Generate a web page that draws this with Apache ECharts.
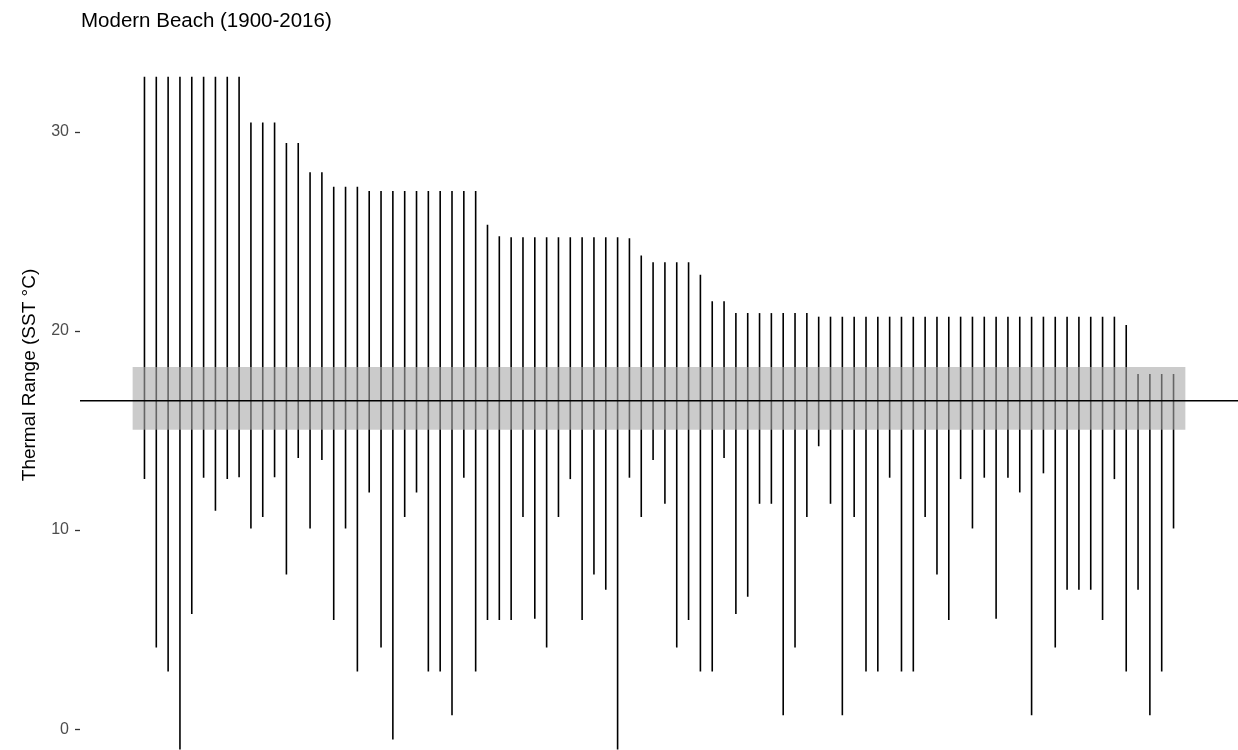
<!DOCTYPE html>
<html>
<head>
<meta charset="utf-8">
<script src="https://cdn.jsdelivr.net/npm/echarts@6/dist/echarts.min.js"></script>
<style>
  html, body { margin: 0; padding: 0; background: #ffffff; }
  #chart { width: 1238px; height: 750px; }
</style>
</head>
<body>
<div id="chart"></div>
<script>
// Thermal range (min/max SST) per record, ordered by maximum
const highs = [
  32.78, 32.78, 32.78, 32.78, 32.78, 32.78, 32.78, 32.78, 32.78,
  30.47, 30.47, 30.47,
  29.45, 29.45,
  27.97, 27.97,
  27.25, 27.25, 27.25,
  27.04, 27.04, 27.04, 27.04, 27.04, 27.04, 27.04, 27.04, 27.04, 27.04,
  25.34, 24.76,
  24.71, 24.71, 24.71, 24.71, 24.71, 24.71, 24.71, 24.71, 24.71, 24.71,
  24.66, 23.79,
  23.45, 23.45, 23.45, 23.45,
  22.83,
  21.49, 21.49,
  20.90, 20.90, 20.90, 20.90, 20.90, 20.90, 20.90,
  20.72, 20.72, 20.72, 20.72, 20.72, 20.72, 20.72, 20.72, 20.72, 20.72,
  20.72, 20.72, 20.72, 20.72, 20.72, 20.72, 20.72, 20.72, 20.72, 20.72,
  20.72, 20.72, 20.72, 20.72, 20.72, 20.72,
  20.30,
  17.84, 17.84, 17.84, 17.84
];
const lows = [
  12.56, 4.10, 2.90, -1.02, 5.78, 12.63, 10.97, 12.56, 12.65, 10.08,
  10.65, 12.65, 7.77, 13.62, 10.08, 13.52, 5.48, 10.08, 2.90, 11.89,
  4.10, -0.52, 10.65, 11.89, 2.90, 2.90, 0.70, 12.63, 2.90, 5.48,
  5.48, 5.48, 10.65, 5.54, 4.10, 10.65, 12.56, 5.48, 7.77, 7.00,
  -1.02, 12.63, 10.65, 13.52, 11.32, 4.10, 5.48, 2.90, 2.90, 13.62,
  5.78, 6.65, 11.32, 11.32, 0.70, 4.10, 10.65, 14.21, 11.32, 0.70,
  10.65, 2.90, 2.90, 12.63, 2.90, 2.90, 10.65, 7.77, 5.48, 12.56,
  10.08, 12.63, 5.54, 12.63, 11.89, 0.70, 12.85, 4.10, 7.00, 7.00,
  7.00, 5.48, 12.56, 2.90, 7.00, 0.70, 2.90, 10.08
];
// Reference band and centre line
const bandLow = 15.04;
const bandHigh = 18.19;
const meanLine = 16.5;
const yTicks = [0, 10, 20, 30];

const FONT = '"Liberation Sans", Arial, Helvetica, sans-serif';
const n = highs.length;
const rangeData = highs.map((h, i) => [i + 1, lows[i], h]);

const chart = echarts.init(document.getElementById('chart'), null, { renderer: 'canvas' });

chart.setOption({
  animation: false,
  backgroundColor: '#ffffff',
  title: {
    text: 'Modern Beach (1900-2016)',
    left: 76,
    top: 6,
    textStyle: { fontFamily: FONT, fontSize: 20.5, fontWeight: 'normal', color: '#000000' }
  },
  grid: { left: 80, right: 0, top: 0, bottom: 0, containLabel: false },
  xAxis: {
    type: 'value',
    min: -4.45,
    max: n + 5.45,
    show: false,
    splitLine: { show: false }
  },
  yAxis: {
    type: 'value',
    min: -1.05,
    max: 36.63,
    name: 'Thermal Range (SST °C)',
    nameLocation: 'middle',
    nameGap: 41,
    nameTextStyle: { fontFamily: FONT, fontSize: 19, color: '#000000' },
    axisLine: { show: false, onZero: false },
    splitLine: { show: false },
    axisTick: {
      show: true,
      length: 5,
      customValues: yTicks,
      lineStyle: { color: '#333333', width: 1.3 }
    },
    axisLabel: {
      show: true,
      customValues: yTicks,
      margin: 11,
      fontFamily: FONT,
      fontSize: 16,
      color: '#4d4d4d'
    }
  },
  series: [
    {
      type: 'custom',
      name: 'range',
      z: 1,
      data: rangeData,
      renderItem: function (params, api) {
        const x = api.value(0);
        const p1 = api.coord([x, api.value(1)]);
        const p2 = api.coord([x, api.value(2)]);
        return {
          type: 'line',
          shape: { x1: p1[0], y1: p1[1], x2: p2[0], y2: p2[1] },
          style: { stroke: '#000000', lineWidth: 1.6, lineCap: 'butt' }
        };
      }
    },
    {
      type: 'custom',
      name: 'band',
      z: 2,
      data: [[0, n + 1, bandLow, bandHigh]],
      renderItem: function (params, api) {
        const a = api.coord([api.value(0), api.value(3)]);
        const b = api.coord([api.value(1), api.value(2)]);
        return {
          type: 'rect',
          shape: { x: a[0], y: a[1], width: b[0] - a[0], height: b[1] - a[1] },
          style: { fill: 'rgba(169,169,169,0.6)' }
        };
      }
    },
    {
      type: 'custom',
      name: 'mean',
      z: 3,
      data: [[0, meanLine]],
      renderItem: function (params, api) {
        const p = api.coord([api.value(0), api.value(1)]);
        const cs = params.coordSys;
        return {
          type: 'line',
          shape: { x1: cs.x, y1: p[1], x2: cs.x + cs.width, y2: p[1] },
          style: { stroke: '#000000', lineWidth: 1.6 }
        };
      }
    }
  ]
});
</script>
</body>
</html>
